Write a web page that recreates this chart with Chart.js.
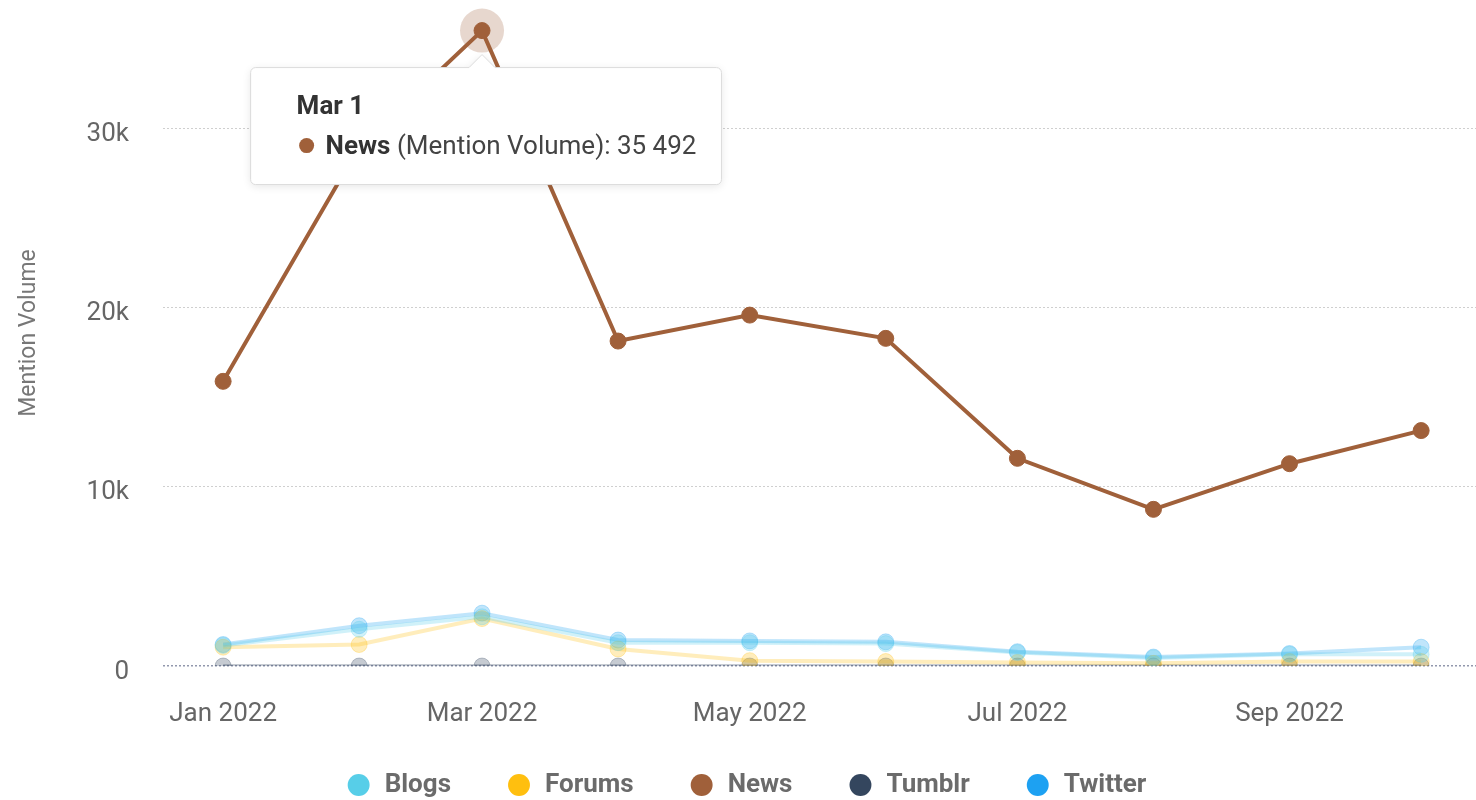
<!DOCTYPE html>
<html>
<head>
<meta charset="utf-8">
<script src="https://cdn.jsdelivr.net/npm/chart.js@4.4.1/dist/chart.umd.min.js"></script>
<style>
  html, body { margin: 0; padding: 0; background: #fff; overflow: hidden; }
  .chart-wrap { position: relative; width: 1476px; height: 808px; }
</style>
</head>
<body>
<div class="chart-wrap"><canvas id="mentionsChart"></canvas></div>
<script>
const startDate = "2022-01-01";
const pointDates = [
  "2022-01-01", "2022-02-01", "2022-03-01", "2022-04-01", "2022-05-01",
  "2022-06-01", "2022-07-01", "2022-08-01", "2022-09-01", "2022-10-01",
];
const tickDates = ["2022-01-01", "2022-03-01", "2022-05-01", "2022-07-01", "2022-09-01"];
const yTicks = [0, 10000, 20000, 30000];

const seriesNames = ["Blogs", "Forums", "News", "Tumblr", "Twitter"];
const seriesColors = ["#57cee8", "#ffbf0f", "#a0603a", "#34465e", "#1da1f2"];

const blogsValues = [1150, 2050, 2750, 1300, 1300, 1250, 750, 450, 650, 650];
const forumsValues = [1050, 1200, 2650, 950, 300, 250, 200, 150, 250, 250];
const newsValues = [15900, 29000, 35492, 18150, 19600, 18300, 11600, 8750, 11300, 13150];
const tumblrValues = [0, 0, 0, 0, 0, 0, 0, 0, 0, 0];
const twitterValues = [1200, 2250, 2950, 1450, 1400, 1350, 800, 500, 700, 1050];
const seriesValues = [blogsValues, forumsValues, newsValues, tumblrValues, twitterValues];

const activeSeries = 2; // News is hovered
const activePoint = 2;  // Mar 1

const dayOf = (date) => (Date.parse(date) - Date.parse(startDate)) / 86400000;

const fade = (hex, alpha) => {
  const n = parseInt(hex.slice(1), 16);
  return `rgba(${(n >> 16) & 255}, ${(n >> 8) & 255}, ${n & 255}, ${alpha})`;
};

const tickLabels = {};
tickDates.forEach((date) => {
  tickLabels[dayOf(date)] = new Date(date).toLocaleString("en-US", {
    month: "short", year: "numeric", timeZone: "UTC",
  });
});

const datasets = seriesNames.map((name, i) => {
  const active = i === activeSeries;
  const color = active ? seriesColors[i] : fade(seriesColors[i], 0.28);
  return {
    label: name,
    data: seriesValues[i].map((value, j) => ({ x: dayOf(pointDates[j]), y: value })),
    borderColor: color,
    backgroundColor: color,
    pointBackgroundColor: color,
    pointBorderColor: color,
    borderWidth: 4,
    pointRadius: 8,
    pointBorderWidth: 1,
    tension: 0,
    order: active ? -1 : 0,
  };
});

// keeps the x labels unclipped and nudges the legend to where the original sits
const layoutTweaks = {
  id: "layoutTweaks",
  afterLayout(chart) {
    const x = chart.scales.x;
    x.bottom = x.top + 70;
    chart.legend.left += 8;
    chart.legend.right += 8;
  },
};

const hoverTooltip = {
  id: "hoverTooltip",
  beforeDatasetsDraw(chart) {
    const { ctx } = chart;
    const point = chart.getDatasetMeta(activeSeries).data[activePoint];
    ctx.save();
    ctx.beginPath();
    ctx.arc(point.x, point.y, 22, 0, Math.PI * 2);
    ctx.fillStyle = fade(seriesColors[activeSeries], 0.25);
    ctx.fill();
    ctx.restore();
  },
  afterDraw(chart) {
    const { ctx } = chart;
    const point = chart.getDatasetMeta(activeSeries).data[activePoint];
    const title = new Date(pointDates[activePoint]).toLocaleString("en-US", {
      month: "short", day: "numeric", timeZone: "UTC",
    });
    const name = seriesNames[activeSeries];
    const value = seriesValues[activeSeries][activePoint].toLocaleString("en-US").replace(/,/g, " ");
    const rest = ` (Mention Volume): ${value}`;

    ctx.save();
    ctx.font = "bold 26px Roboto";
    const nameWidth = ctx.measureText(name).width;
    ctx.font = "26px Roboto";
    const restWidth = ctx.measureText(rest).width;

    const width = 75 + nameWidth + restWidth + 25;
    const height = 117;
    const left = point.x + 4 - width / 2;
    const top = point.y + 37;
    const right = left + width;
    const bottom = top + height;
    const r = 5;
    const caret = 13;

    ctx.beginPath();
    ctx.moveTo(left + r, top);
    ctx.lineTo(point.x - caret, top);
    ctx.lineTo(point.x, top - caret);
    ctx.lineTo(point.x + caret, top);
    ctx.lineTo(right - r, top);
    ctx.arcTo(right, top, right, top + r, r);
    ctx.lineTo(right, bottom - r);
    ctx.arcTo(right, bottom, right - r, bottom, r);
    ctx.lineTo(left + r, bottom);
    ctx.arcTo(left, bottom, left, bottom - r, r);
    ctx.lineTo(left, top + r);
    ctx.arcTo(left, top, left + r, top, r);
    ctx.closePath();
    ctx.shadowColor = "rgba(0, 0, 0, 0.10)";
    ctx.shadowBlur = 8;
    ctx.shadowOffsetY = 2;
    ctx.fillStyle = "#ffffff";
    ctx.fill();
    ctx.shadowColor = "transparent";
    ctx.strokeStyle = "#dcdcdc";
    ctx.lineWidth = 1;
    ctx.stroke();

    ctx.textBaseline = "middle";
    ctx.fillStyle = "#333333";
    ctx.font = "bold 26px Roboto";
    ctx.fillText(title, left + 46, top + 40);

    ctx.beginPath();
    ctx.arc(left + 56, top + 78, 7.5, 0, Math.PI * 2);
    ctx.fillStyle = seriesColors[activeSeries];
    ctx.fill();

    ctx.fillStyle = "#333333";
    ctx.font = "bold 26px Roboto";
    ctx.fillText(name, left + 75, top + 80);
    ctx.font = "26px Roboto";
    ctx.fillStyle = "#444444";
    ctx.fillText(rest, left + 75 + nameWidth, top + 80);
    ctx.restore();
  },
};

new Chart(document.getElementById("mentionsChart"), {
  type: "line",
  data: { datasets },
  options: {
    animation: false,
    responsive: true,
    maintainAspectRatio: false,
    events: [],
    layout: { padding: 0, autoPadding: false },
    plugins: {
      tooltip: { enabled: false },
      legend: {
        position: "bottom",
        labels: {
          usePointStyle: true,
          pointStyle: "circle",
          boxHeight: 15.5,
          padding: 55,
          color: "#6b6b6b",
          font: { family: "Roboto", size: 26, weight: "bold" },
          sort: (a, b) => a.datasetIndex - b.datasetIndex,
          generateLabels: (chart) =>
            Chart.defaults.plugins.legend.labels.generateLabels(chart).map((item) => ({
              ...item,
              fillStyle: seriesColors[item.datasetIndex],
              strokeStyle: seriesColors[item.datasetIndex],
              lineWidth: 0,
            })),
        },
      },
    },
    scales: {
      x: {
        type: "linear",
        min: -13.7,
        max: 285.5,
        afterBuildTicks: (scale) => {
          scale.ticks = tickDates.map((date) => ({ value: dayOf(date) }));
        },
        afterFit: (scale) => {
          scale.height = 51;
          scale.paddingLeft = 0;
          scale.paddingRight = 0;
        },
        grid: { display: false, drawTicks: false },
        border: { display: false },
        ticks: {
          autoSkip: false,
          maxRotation: 0,
          padding: 33,
          color: "#666666",
          font: { family: "Roboto", size: 26 },
          callback: (value) => tickLabels[value] || "",
        },
      },
      y: {
        min: 0,
        max: 37200,
        afterBuildTicks: (scale) => {
          scale.ticks = yTicks.map((value) => ({ value }));
        },
        afterFit: (scale) => {
          scale.width = 163;
          scale.paddingTop = 0;
          scale.paddingBottom = 0;
        },
        grid: {
          drawTicks: false,
          color: (context) => (context.tick && context.tick.value === 0 ? "#9298ad" : "#cfcfcf"),
          lineWidth: (context) => (context.tick && context.tick.value === 0 ? 1.5 : 1),
        },
        border: { display: false, dash: [2, 2] },
        title: {
          display: true,
          text: "Mention Volume",
          color: "#777777",
          font: { family: "Roboto", size: 23 },
          padding: { top: 15, bottom: 0 },
        },
        ticks: {
          padding: 34,
          labelOffset: 6,
          color: "#666666",
          font: { family: "Roboto", size: 26 },
          callback: (value) => (value === 0 ? "0" : `${value / 1000}k`),
        },
      },
    },
  },
  plugins: [layoutTweaks, hoverTooltip],
});
</script>
</body>
</html>
